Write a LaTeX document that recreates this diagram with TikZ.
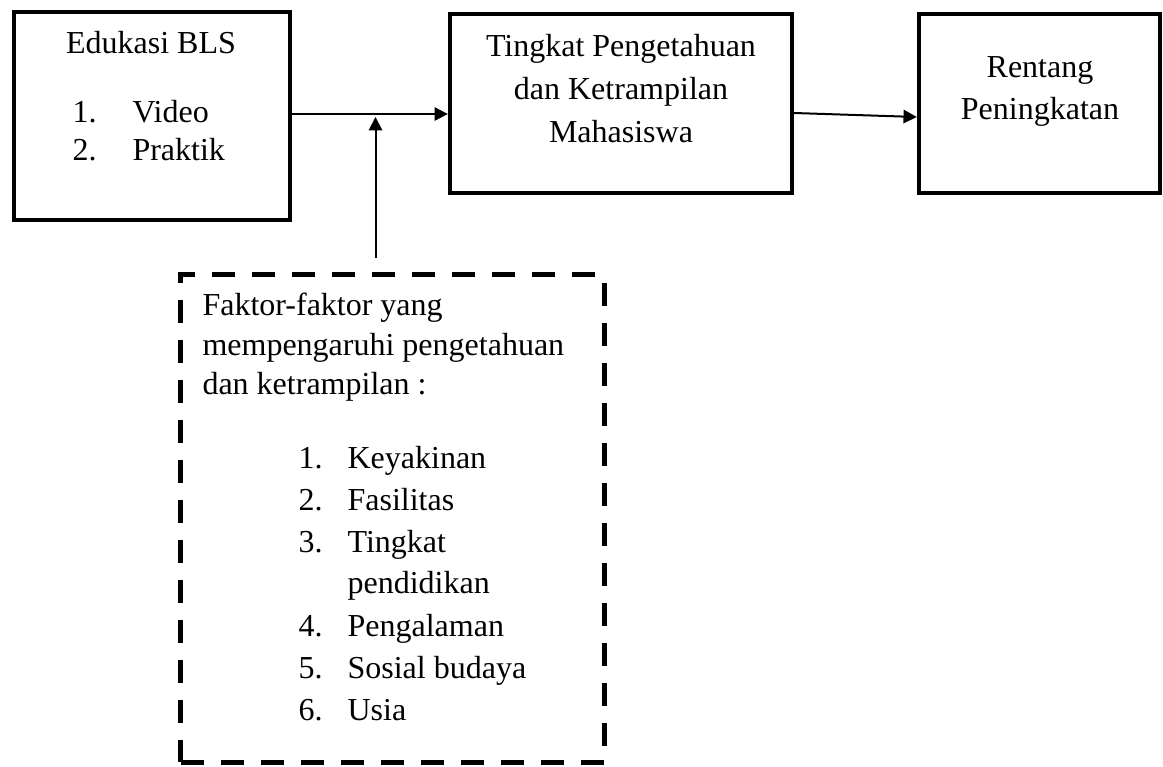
\documentclass[tikz,border=0pt]{standalone}
\usepackage{fontspec}
\setmainfont{Liberation Serif}
\usetikzlibrary{arrows.meta}

\begin{document}
\begin{tikzpicture}[x=0.375pt,y=-0.375pt,
    box/.style={draw,line width=1.6pt,minimum height=67.1pt,inner sep=0pt},
    dashbox/.style={draw,line width=2pt,dash pattern=on 8.6pt off 6.4pt,inner sep=0pt},
    txt/.style={inner sep=0pt,font=\fontsize{12}{15.75}\selectfont},
    arr/.style={line width=0.75pt,-{Triangle[length=5pt,width=5pt]}}]
\useasboundingbox (0,0) rectangle (1163,767);

% kotak
\node [box,minimum width=103.5pt,minimum height=78pt] (edukasi) at (152,116) {};
\node [box,minimum width=128.25pt] (tingkat) at (621,103.5) {};
\node [box,minimum width=90.4pt] (rentang) at (1039.5,103.5) {};
\node [dashbox,minimum width=158.8pt,minimum height=182.8pt] (faktor) at (392.5,518.5) {};

% teks
\node [txt,anchor=base] (edukasiJudul) at (151,53) {Edukasi BLS};
\node [txt,anchor=base west,font=\fontsize{12}{14.25}\selectfont] (edukasiList) at (72,122)
    {\begin{tabular}[t]{@{}p{22.5pt}@{}l@{}}1.&Video\\2.&Praktik\end{tabular}};
\node [txt,anchor=base,font=\fontsize{12}{16}\selectfont] (tingkatText) at (621,57)
    {\begin{tabular}[t]{@{}c@{}}Tingkat Pengetahuan\\dan Ketrampilan\\Mahasiswa\end{tabular}};
\node [txt,anchor=base] (rentangText) at (1040,78)
    {\begin{tabular}[t]{@{}c@{}}Rentang\\Peningkatan\end{tabular}};
\node [txt,anchor=base west,font=\fontsize{12}{15}\selectfont] (faktorJudul) at (202,315)
    {\begin{tabular}[t]{@{}l@{}}Faktor-faktor yang\\mempengaruhi pengetahuan\\dan ketrampilan :\end{tabular}};
\node [txt,anchor=base west] (faktorList) at (298,468)
    {\begin{tabular}[t]{@{}p{18.4pt}@{}l@{}}1.&Keyakinan\\2.&Fasilitas\\3.&Tingkat\\&pendidikan\\
     4.&Pengalaman\\5.&Sosial budaya\\6.&Usia\end{tabular}};

% panah
\coordinate (join) at (375.5,117);
\coordinate (foot) at (375.5,258);
\draw [arr] (edukasi.east |- 0,114) -- (tingkat.west |- 0,114);
\draw [arr] (foot) -- (join);
\draw [arr] (tingkat.east |- 0,113) -- (rentang.west |- 0,117);
\end{tikzpicture}
\end{document}
